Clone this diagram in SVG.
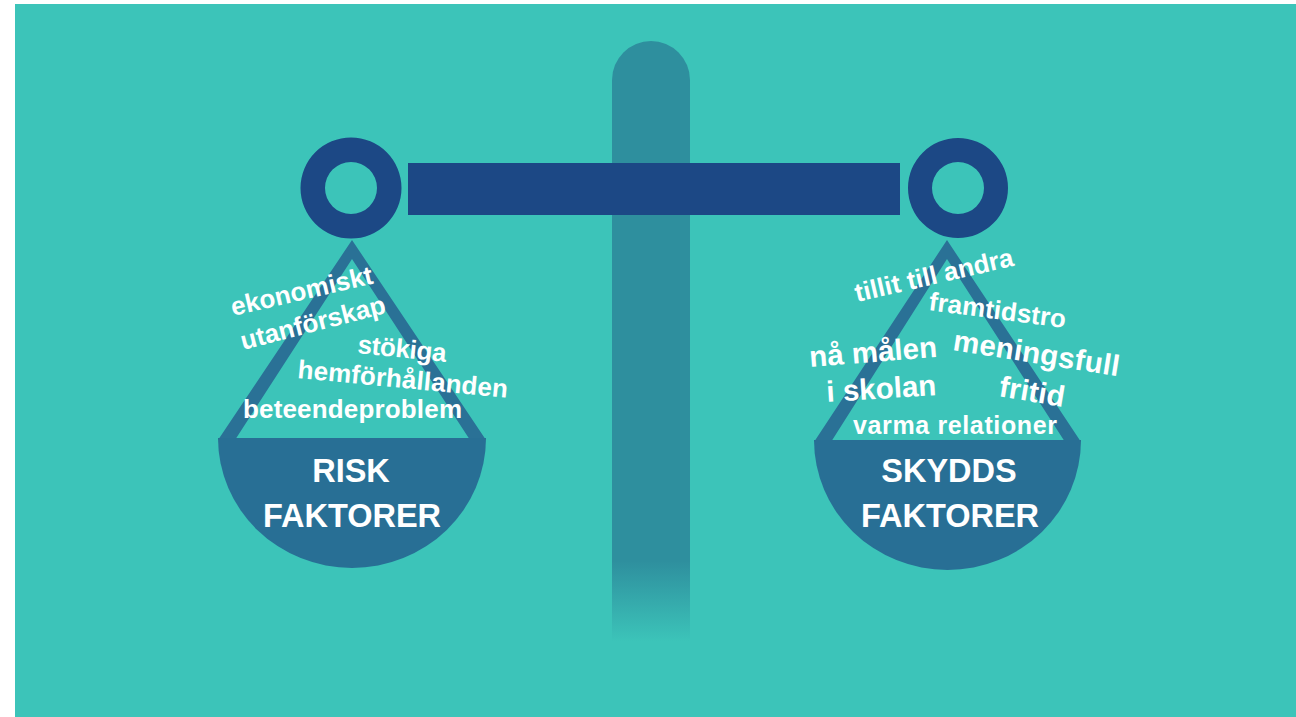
<svg xmlns="http://www.w3.org/2000/svg" width="1296" height="717" viewBox="0 0 1296 717">
  <style>
    .w { fill: #ffffff; font-family: "Liberation Sans", Arial, sans-serif; font-weight: bold; }
    .s { font-size: 26px; }
    .m { font-size: 29.5px; }
    .t { font-size: 32.5px; text-anchor: middle; }
    .ring { fill: #1c4885; fill-rule: evenodd; }
    .pan { fill: #286f95; }
    .tri { fill: #2a7196; fill-rule: evenodd; }
  </style>
  <defs>
    <linearGradient id="poleFade" x1="0" y1="41" x2="0" y2="660" gradientUnits="userSpaceOnUse">
      <stop offset="0" stop-color="#2e8f9e"/>
      <stop offset="0.84" stop-color="#2e8f9e"/>
      <stop offset="0.97" stop-color="#3cc4b9"/>
      <stop offset="1" stop-color="#3cc4b9"/>
    </linearGradient>
  </defs>
  <rect x="0" y="0" width="1296" height="717" fill="#ffffff"/>
  <rect x="15" y="4" width="1281" height="713" fill="#3cc4b9"/>

  <g id="pole">
    <path d="M612 80 A39 39 0 0 1 690 80 L690 660 L612 660 Z" fill="url(#poleFade)"/>
  </g>

  <g id="connectors">
    <rect id="beam" x="408" y="163" width="492" height="52" fill="#1c4885"/>
  </g>

  <g id="left-ring">
    <path class="ring" d="M300.5 188 a50.5 50.5 0 1 0 101 0 a50.5 50.5 0 1 0 -101 0 Z M325 188 a26 26 0 1 0 52 0 a26 26 0 1 0 -52 0 Z"/>
  </g>
  <g id="right-ring">
    <path class="ring" d="M908 188 a50 50 0 1 0 100 0 a50 50 0 1 0 -100 0 Z M932 188 a26 26 0 1 0 52 0 a26 26 0 1 0 -52 0 Z"/>
  </g>

  <g id="risk-pan">
    <path class="tri" d="M352 240 L218 440 L486 440 Z M352 259 L235 440 L470 440 Z"/>
    <path class="pan" d="M218 438 L486 438 A134 130 0 0 1 218 438 Z"/>
    <text class="w t" x="351" y="482">RISK</text>
    <text class="w t" x="352" y="527">FAKTORER</text>
    <text class="w s" transform="translate(233,316) rotate(-13)" textLength="145">ekonomiskt</text>
    <text class="w s" transform="translate(243,350) rotate(-14.5)" textLength="149">utanförskap</text>
    <text class="w s" transform="translate(357,353) rotate(5.8)" textLength="89">stökiga</text>
    <text class="w s" transform="translate(297,378) rotate(5.4)" textLength="211">hemförhållanden</text>
    <text class="w s" x="243" y="418" textLength="219">beteendeproblem</text>
  </g>

  <g id="skydd-pan">
    <path class="tri" d="M947 240 L814 442 L1081 442 Z M947 259 L831 442 L1065 442 Z"/>
    <path class="pan" d="M814 440 L1081 440 A133.5 130 0 0 1 814 440 Z"/>
    <text class="w t" x="949" y="482">SKYDDS</text>
    <text class="w t" x="950" y="527">FAKTORER</text>
    <text class="w s" font-size="27" transform="translate(857,302) rotate(-13)" textLength="162">tillit till andra</text>
    <text class="w s" transform="translate(928,310) rotate(7.5)" textLength="138">framtidstro</text>
    <text class="w m" transform="translate(810,367) rotate(-4.5)" textLength="128">nå målen</text>
    <text class="w m" transform="translate(952,350) rotate(9)" textLength="168">meningsfull</text>
    <text class="w m" transform="translate(827,402) rotate(-3.6)" textLength="110">i skolan</text>
    <text class="w m" transform="translate(998,396) rotate(9.6)" textLength="66">fritid</text>
    <text class="w" x="853" y="434" font-size="25" textLength="204">varma relationer</text>
  </g>
</svg>
